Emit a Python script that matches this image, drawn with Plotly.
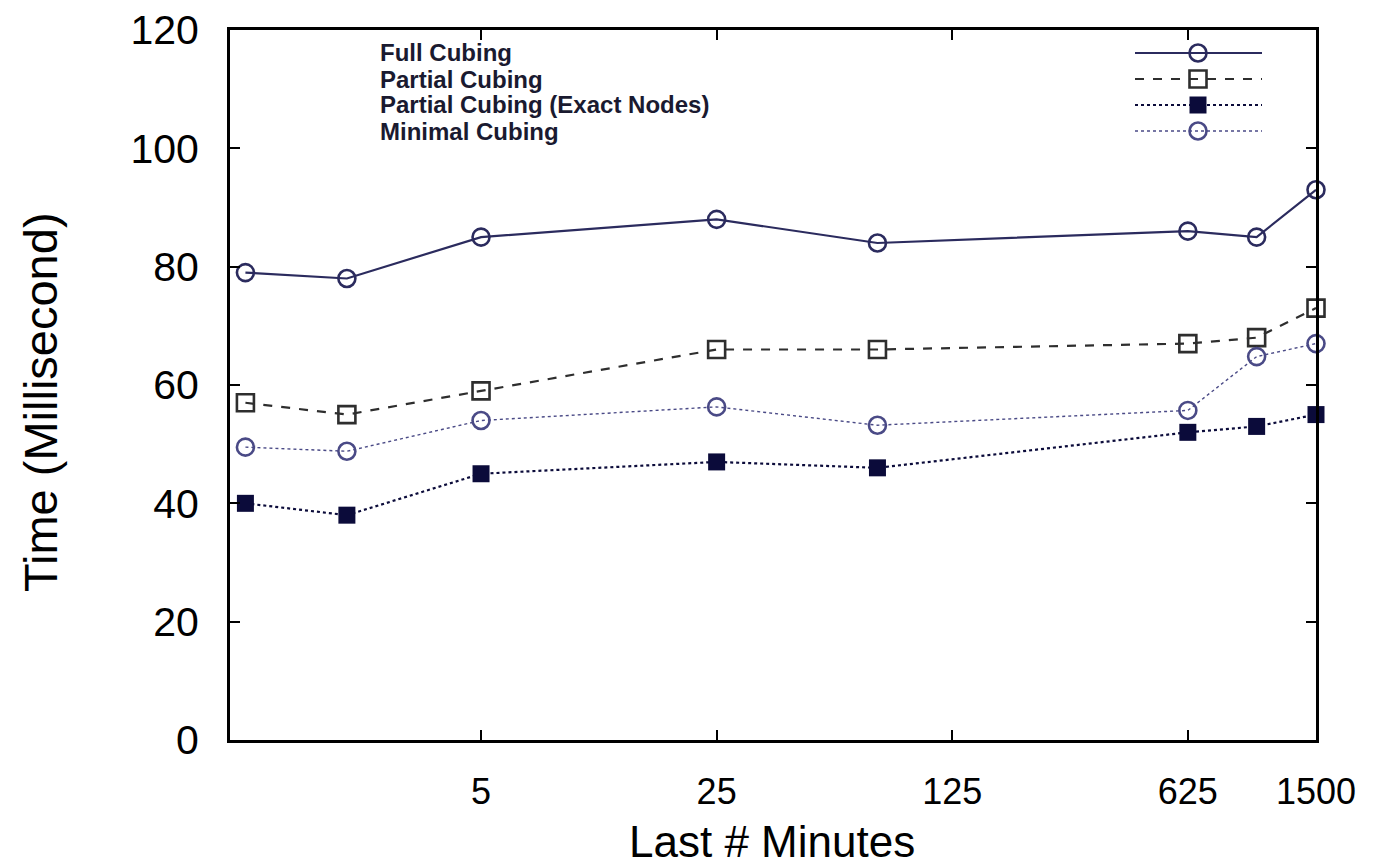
import plotly.graph_objects as go
import math

# ---- data ----
minutes = [1, 2, 5, 25, 75, 625, 1000, 1500]
full_cubing = [79, 78, 85, 88, 84, 86, 85, 93]
partial_cubing = [57, 55, 59, 66, 66, 67, 68, 73]
partial_exact = [40, 38, 45, 47, 46, 52, 53, 55]
minimal_cubing = [49.5, 48.8, 54, 56.3, 53.2, 55.7, 64.8, 67]

series_names = ["Full Cubing", "Partial Cubing", "Partial Cubing (Exact Nodes)", "Minimal Cubing"]
x_tick_vals = [5, 25, 125, 625, 1500]
x_tick_text = ["5", "25", "125", "625", "1500"]
y_tick_vals = [0, 20, 40, 60, 80, 100, 120]

styles = [
    dict(color="#2b2b5e", dash="solid", width=2.2, symbol="circle-open", msize=17, mline=2.6),
    dict(color="#2e2e2e", dash="dash", width=2.2, symbol="square-open", msize=17, mline=2.6),
    dict(color="#0b0b3a", dash="dot", width=2.2, symbol="square", msize=17, mline=0),
    dict(color="#4a4a86", dash="dot", width=1.4, symbol="circle-open", msize=17, mline=2.6),
]
values = [full_cubing, partial_cubing, partial_exact, minimal_cubing]

fig = go.Figure()
for name, ys, st in zip(series_names, values, styles):
    fig.add_trace(go.Scatter(
        x=minutes, y=ys, mode="lines+markers", name=name, showlegend=False,
        line=dict(color=st["color"], dash=st["dash"], width=st["width"]),
        marker=dict(symbol=st["symbol"], size=st["msize"], color=st["color"],
                    line=dict(color=st["color"], width=st["mline"])),
        cliponaxis=False,
    ))

# page offset (body margin) compensation
OFF = 8
FW, FH = 1384 - OFF, 868 - OFF
# plot area in reference pixel coordinates
L, R, T, B = 230, 1316, 30, 740
W, H = R - L, B - T
def fx(px):
    return (px - L) / W
def fy(py):
    return (B - py) / H

row_y = [53, 79, 105, 131]
for name, st, py in zip(series_names, styles, row_y):
    fig.add_trace(go.Scatter(
        x=[fx(1135), fx(1198), fx(1262)], y=[fy(py)] * 3,
        xaxis="x2", yaxis="y2", mode="lines", showlegend=False, hoverinfo="skip",
        line=dict(color=st["color"], dash=st["dash"], width=st["width"]),
    ))
    fig.add_trace(go.Scatter(
        x=[fx(1198)], y=[fy(py)], xaxis="x2", yaxis="y2", mode="markers",
        showlegend=False, hoverinfo="skip",
        marker=dict(symbol=st["symbol"], size=st["msize"], color=st["color"],
                    line=dict(color=st["color"], width=st["mline"])),
    ))
    fig.add_annotation(
        text="<b>" + name + "</b>", xref="paper", yref="paper",
        x=fx(378), y=fy(py), xanchor="left", yanchor="middle", showarrow=False,
        font=dict(family="Liberation Sans, Arial, sans-serif", size=24, color="#1a1a30"),
    )

# axis titles as annotations for exact placement
fig.add_annotation(
    text="Last # Minutes", xref="paper", yref="paper", x=fx(772), y=fy(841),
    xanchor="center", yanchor="middle", showarrow=False,
    font=dict(family="Liberation Sans, Arial, sans-serif", size=44, color="black"),
)
fig.add_annotation(
    text="Time (Millisecond)", xref="paper", yref="paper", x=fx(40), y=fy(402),
    xanchor="center", yanchor="middle", showarrow=False, textangle=-90,
    font=dict(family="Liberation Sans, Arial, sans-serif", size=47, color="black"),
)

fig.update_layout(
    width=FW, height=FH,
    margin=dict(l=L - OFF, r=FW - (R - OFF), t=T - OFF, b=FH - (B - OFF), autoexpand=False),
    paper_bgcolor="white", plot_bgcolor="white",
    showlegend=False,
    xaxis=dict(
        type="log", range=[math.log10(0.9), math.log10(1500)],
        tickvals=x_tick_vals, ticktext=x_tick_text,
        ticks="inside", ticklen=10, tickwidth=1.5, tickcolor="black",
        showline=True, linecolor="black", linewidth=3, mirror="ticks",
        showgrid=False, zeroline=False, ticklabelstandoff=18, automargin=False,
        ticklabeloverflow="allow",
        tickfont=dict(family="Liberation Sans, Arial, sans-serif", size=36, color="black"),
    ),
    yaxis=dict(
        range=[0, 120], tickvals=y_tick_vals,
        ticks="inside", ticklen=10, tickwidth=1.5, tickcolor="black",
        showline=True, linecolor="black", linewidth=3, mirror="ticks",
        showgrid=False, zeroline=False, ticklabelstandoff=20, automargin=False,
        ticklabeloverflow="allow",
        tickfont=dict(family="Liberation Sans, Arial, sans-serif", size=41, color="black"),
    ),
    xaxis2=dict(overlaying="x", range=[0, 1], visible=False, fixedrange=True),
    yaxis2=dict(overlaying="y", range=[0, 1], visible=False, fixedrange=True),
)

fig.write_html("out.html")
